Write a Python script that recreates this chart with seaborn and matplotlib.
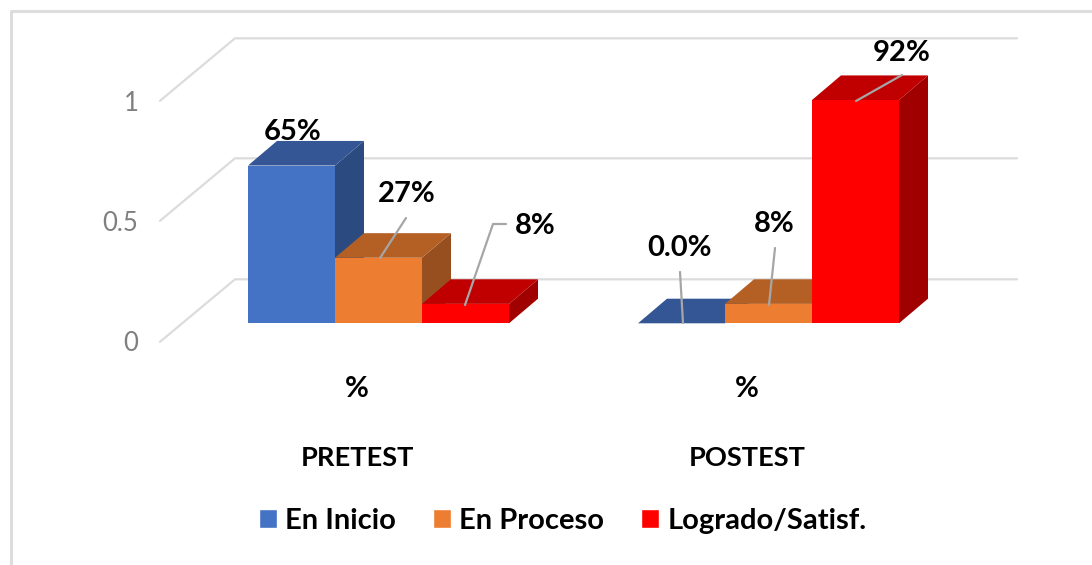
import numpy as np
import pandas as pd
import seaborn as sns
import matplotlib.pyplot as plt
from matplotlib.patches import Polygon
from matplotlib.transforms import Affine2D

tests = ["PRETEST", "POSTEST"]
levels = ["En Inicio", "En Proceso", "Logrado/Satisf."]
pretest = [0.65, 0.27, 0.08]
postest = [0.0, 0.08, 0.92]
bar_labels = ["65%", "27%", "8%", "0.0%", "8%", "92%"]
axis_ticks = [0, 0.5, 1]
front_colors = ["#4472C4", "#ED7D31", "#FF0000"]
top_colors = ["#345695", "#B46024", "#C00000"]
side_colors = ["#2B4A80", "#974F1F", "#A00000"]

W, H = 1092, 565
BASE_Y, UNIT = 323.3, 242.7
GROUP0_X, GROUP_STEP = 378.5, 390.0
DEPTH_X, DEPTH_Y = 29, 24.6

df = pd.DataFrame({
    "test": np.repeat(tests, 3),
    "level": levels * 2,
    "value": pretest + postest,
})

sns.set_theme(style="white")
plt.rcParams["font.family"] = ["Lato", "DejaVu Sans"]

fig = plt.figure(figsize=(W / 100, H / 100), dpi=100)
ax = fig.add_axes([0, 0, 1, 1])
sns.barplot(data=df, x="test", y="value", hue="level", palette=front_colors,
            width=261 / GROUP_STEP, saturation=1, gap=0, ax=ax, errorbar=None)
ax.set_xlim(-GROUP0_X / GROUP_STEP, (W - GROUP0_X) / GROUP_STEP)
ax.set_ylim((BASE_Y - H) / UNIT, BASE_Y / UNIT)
ax.set_xlabel("")
ax.set_ylabel("")
for side in ax.spines.values():
    side.set_visible(False)
ax.set_xticks([])
ax.set_yticks([])
ax.patch.set_alpha(0)

# pixel coordinates, origin top left like the reference
px = Affine2D().scale(1, -1).translate(0, H)


def to_px(x, y):
    a, b = ax.transData.transform((x, y))
    return a, H - b


# back wall and side wall lines
for y_back in [38.3, 158.3, 279.3]:
    ax.plot([160, 235, 1017], [y_back + 62.5, y_back, y_back], color="#DCDCDC",
            lw=1.6, transform=px, zorder=0, solid_joinstyle="miter", clip_on=False)

# outer picture border
ax.plot([10.5, 10.5, W], [H, 10.5, 10.5], color="#DDDDDD", lw=2.2, transform=px, zorder=0)

# the bars get a top and a side face
bars = sorted([p for c in ax.containers for p in c], key=lambda p: p.get_x())
level_idx = [0, 1, 2, 0, 1, 2]
for i, bar in enumerate(bars):
    k = level_idx[i]
    x0, y1 = to_px(bar.get_x(), bar.get_height())
    x1, y0 = to_px(bar.get_x() + bar.get_width(), 0)
    z = 2 + i
    top = [(x0, y1), (x1, y1), (x1 + DEPTH_X, y1 - DEPTH_Y), (x0 + DEPTH_X, y1 - DEPTH_Y)]
    right = [(x1, y1), (x1 + DEPTH_X, y1 - DEPTH_Y), (x1 + DEPTH_X, y0 - DEPTH_Y), (x1, y0)]
    ax.add_patch(Polygon(right, closed=True, fc=side_colors[k], ec="none", transform=px, zorder=z))
    ax.add_patch(Polygon(top, closed=True, fc=top_colors[k], ec="none", transform=px, zorder=z))
    bar.set_zorder(z + 0.5)
    bar.set_edgecolor("none")

# data labels and their leader lines
label_pos = [(293, 132), (407, 194), (535, 226), (680, 248), (774, 224), (902, 53)]
leaders = [
    None,
    [(380, 258), (406, 218)],
    [(465, 305), (493, 224), (506, 224)],
    [(683, 323), (680, 272)],
    [(769, 305), (775, 248)],
    [(856, 101), (902, 75)],
]
for text, pos, line in zip(bar_labels, label_pos, leaders):
    if line:
        xs, ys = zip(*line)
        ax.plot(xs, ys, color="#A6A6A6", lw=1.6, transform=px, zorder=20)
    ax.text(pos[0], pos[1], text, transform=px, ha="center", va="center",
            fontsize=21, fontweight="bold", color="black", zorder=21)

# category labels below the floor
for name, x_mid in zip(tests, [357, 747]):
    ax.text(x_mid, 389, "%", transform=px, ha="center", va="center",
            fontsize=21, fontweight="bold", color="black")
    ax.text(x_mid, 458, name, transform=px, ha="center", va="center",
            fontsize=19.6, fontweight="bold", color="black")

# value axis sits on the front edge of the side wall
axis_ax = fig.add_axes([160 / W, (H - 341) / H, 0.01, 240 / H])
axis_ax.set_ylim(0, 1)
axis_ax.set_yticks(axis_ticks, ["0", "0.5", "1"])
axis_ax.set_xticks([])
axis_ax.tick_params(axis="y", length=0, pad=15.5, labelsize=18.5, labelcolor="#7F7F7F")
axis_ax.patch.set_alpha(0)
for side in axis_ax.spines.values():
    side.set_visible(False)

sns.move_legend(ax, "center", bbox_to_anchor=(562.5 / W, (H - 521) / H), ncol=3,
                frameon=False, title=None, fontsize=21, handlelength=0.63,
                handleheight=0.63, handletextpad=0.28, columnspacing=1.25)
for t in ax.get_legend().get_texts():
    t.set_fontweight("bold")
    t.set_color("black")

fig.savefig("out.png", dpi=100)
